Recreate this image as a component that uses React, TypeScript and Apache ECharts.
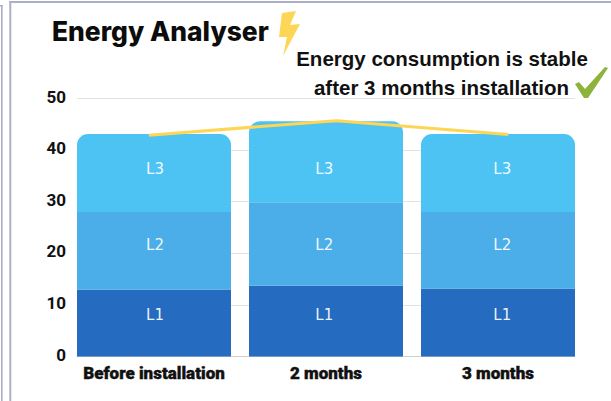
import React, { useEffect, useRef } from "react";
import * as echarts from "echarts";

const categories = ["Before installation", "2 months", "3 months"];
const l1Values = [13.0, 13.7, 13.2];
const l2Values = [15.0, 16.2, 14.8];
const l3Values = [15.1, 15.7, 15.1];
const trendPositions = [-0.03, 1.06, 2.06];
const trendValues = [42.9, 45.7, 43.0];
const labelPositions = [0.006, 0.99, 2.025];
const labelLevels = [8.0, 21.6, 36.3];
const labelNames = ["L1", "L2", "L3"];
const yMin = 0;
const yMax = 50;
const yInterval = 10;
const titleText = "Energy Analyser";
const noteLine1 = "Energy consumption is stable";
const noteLine2 = "after 3 months installation";

const segment = (name: string, data: number[], color: string, radius?: number[]) => ({
  type: "bar",
  name,
  stack: "energy",
  xAxisIndex: 0,
  yAxisIndex: 0,
  data,
  barWidth: 154,
  silent: true,
  itemStyle: { color, borderRadius: radius },
});

const labelSeries = (name: string, level: number) => ({
  type: "scatter",
  name: name + " label",
  xAxisIndex: 1,
  yAxisIndex: 0,
  data: labelPositions.map((p) => [p, level]),
  symbolSize: 1,
  silent: true,
  z: 4,
  itemStyle: { color: "transparent" },
  label: {
    show: true,
    position: "inside",
    formatter: name,
    color: "#ffffff",
    fontFamily: "DejaVu Sans",
    fontSize: 15,
    opacity: 0.92,
  },
});

export default function App() {
  const ref = useRef<HTMLDivElement>(null);
  useEffect(() => {
    document.body.style.margin = "0";
    document.body.style.background = "#ffffff";
    const chart = echarts.init(ref.current!, null, { renderer: "svg" });
    const frame = "#aab0c8";
    chart.setOption({
      animation: false,
      backgroundColor: "#ffffff",
      grid: [
        { left: 68, right: 27, top: 98.5, bottom: 44.5 },
        { left: 77, right: 36, top: 98.5, bottom: 44.5 },
      ],
      xAxis: [
        {
          type: "category",
          gridIndex: 0,
          data: categories,
          axisLine: { show: false },
          axisTick: { show: false },
          axisLabel: {
            interval: 0,
            hideOverlap: false,
            color: "#111111",
            fontFamily: "Roboto",
            fontWeight: 900,
            fontSize: 17,
            margin: 8,
            textBorderColor: "#111111",
            textBorderWidth: 0.4,
          },
        },
        {
          type: "value",
          gridIndex: 0,
          position: "top",
          min: -0.5,
          max: 2.5,
          show: false,
        },
        {
          type: "category",
          gridIndex: 1,
          data: categories,
          axisLine: { show: true, lineStyle: { color: "#cfcfcf", width: 1 } },
          axisTick: { show: false },
          axisLabel: { show: false },
        },
      ],
      yAxis: [
        { type: "value", gridIndex: 0, min: yMin, max: yMax, interval: yInterval, show: false },
        {
          type: "value",
          gridIndex: 1,
          min: yMin,
          max: yMax,
          interval: yInterval,
          axisLine: { show: false },
          axisTick: { show: false },
          splitLine: { show: true, lineStyle: { color: "#e2e2e2", width: 1 } },
          axisLabel: {
            color: "#111111",
            fontFamily: "Roboto",
            fontWeight: 700,
            fontSize: 17,
            margin: 11,
            verticalAlign: "bottom",
            lineHeight: 4,
          },
        },
      ],
      series: [
        segment(labelNames[0], l1Values, "#256bbf"),
        segment(labelNames[1], l2Values, "#4caee8"),
        segment(labelNames[2], l3Values, "#4dc3f3", [11, 11, 0, 0]),
        ...labelNames.map((n, i) => labelSeries(n, labelLevels[i])),
        {
          type: "line",
          xAxisIndex: 1,
          yAxisIndex: 0,
          data: trendPositions.map((p, i) => [p, trendValues[i]]),
          symbol: "none",
          silent: true,
          z: 5,
          lineStyle: { color: "#fdd655", width: 3 },
        },
      ],
      graphic: [
        { type: "rect", shape: { x: 1, y: 5, width: 1.6, height: 396 }, style: { fill: frame } },
        { type: "rect", shape: { x: 0, y: 5, width: 2.6, height: 1.6 }, style: { fill: frame } },
        { type: "rect", shape: { x: 9.3, y: 1, width: 2, height: 400 }, style: { fill: frame } },
        { type: "rect", shape: { x: 9.3, y: 1, width: 601.7, height: 2 }, style: { fill: frame } },
        {
          type: "text",
          x: 52,
          y: 31,
          style: {
            text: titleText,
            fill: "#0c0c0c",
            font: "800 26.4px Inter",
            textVerticalAlign: "middle",
          },
        },
        {
          type: "polygon",
          shape: {
            points: [[282, 13], [296, 11], [290, 25], [300, 24], [283, 56], [287, 37], [279, 37]],
          },
          style: { fill: "#fdd655" },
        },
        {
          type: "text",
          x: 442,
          y: 58,
          style: {
            text: noteLine1,
            fill: "#111111",
            font: "700 20.5px 'Liberation Sans'",
            textAlign: "center",
            textVerticalAlign: "middle",
          },
        },
        {
          type: "text",
          x: 441.5,
          y: 87,
          style: {
            text: noteLine2,
            fill: "#111111",
            font: "700 20.5px 'Liberation Sans'",
            textAlign: "center",
            textVerticalAlign: "middle",
          },
        },
        {
          type: "polygon",
          shape: {
            points: [[575, 84], [579, 82], [585, 89], [605, 67], [608, 68], [588, 98], [584, 98]],
          },
          style: { fill: "#8db33a" },
        },
      ],
    });
    return () => chart.dispose();
  }, []);
  return <div ref={ref} style={{ width: 611, height: 401 }} />;
}
